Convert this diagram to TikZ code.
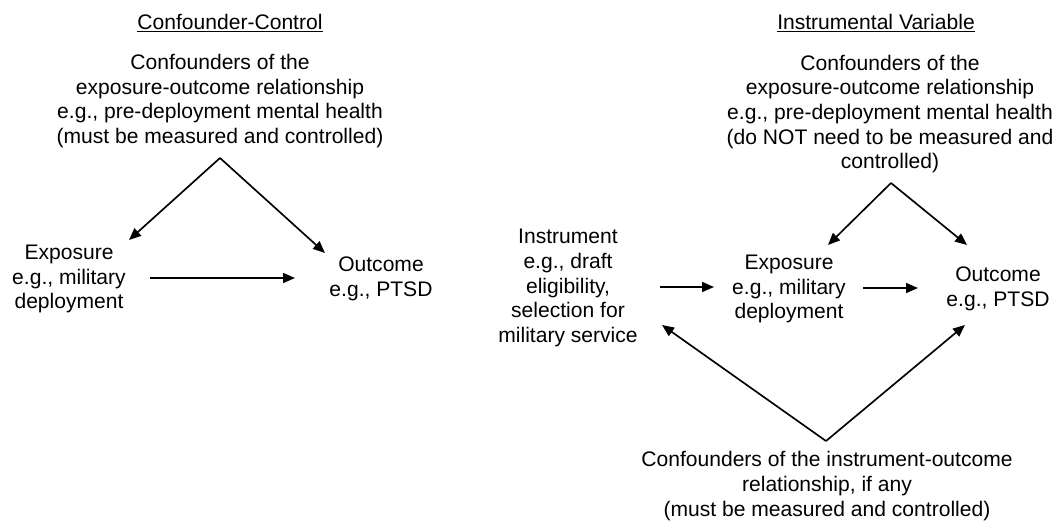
\documentclass[tikz,border=0pt]{standalone}
\usepackage{fontspec}
\setmainfont{Liberation Sans}
\usetikzlibrary{arrows.meta}
\tikzset{
  lbl/.style={align=center, inner sep=0pt, font=\fontsize{15.8}{18.5}\selectfont},
  ttl/.style={inner sep=0pt, font=\fontsize{15.8}{18.5}\selectfont},
  arr/.style={line width=1.25pt, -{Triangle[length=9pt,width=7.5pt]}}
}
\begin{document}
\begin{tikzpicture}[x=0.75pt,y=-0.75pt]
\useasboundingbox (0,0) rectangle (1056,521);
% ---- left panel ----
\node[ttl] (title1) at (230,23) {\underline{Confounder-Control}};
\node[lbl] (conf1) at (220,101) {Confounders of the\\exposure-outcome relationship\\e.g., pre-deployment mental health\\(must be measured and controlled)};
\node[lbl] (exp1) at (69,279) {Exposure\\e.g., military\\deployment};
\node[lbl] (out1) at (381,279) {Outcome\\e.g., PTSD};
\coordinate (apex1) at (220,158);
\coordinate (tipE1) at (129,240);
\coordinate (tipO1) at (325,253);
\coordinate (e1s) at (150,278);
\coordinate (e1t) at (295,278);
\draw[arr] (apex1) -- (tipE1);
\draw[arr] (apex1) -- (tipO1);
\draw[arr] (e1s) -- (e1t);
% ---- right panel ----
\node[ttl] (title2) at (876,23) {\underline{Instrumental Variable}};
\node[lbl] (conf2) at (890,114) {Confounders of the\\exposure-outcome relationship\\e.g., pre-deployment mental health\\(do NOT need to be measured and\\controlled)};
\node[lbl] (inst) at (568,288) {Instrument\\e.g., draft\\eligibility,\\selection for\\military service};
\node[lbl] (exp2) at (789,289) {Exposure\\e.g., military\\deployment};
\node[lbl] (out2) at (998,289) {Outcome\\e.g., PTSD};
\node[lbl] (conf3) at (827,486) {Confounders of the instrument-outcome\\relationship, if any\\(must be measured and controlled)};
\coordinate (apex2) at (891,183);
\coordinate (tipE2) at (828,245);
\coordinate (tipO2) at (967,245);
\coordinate (apex3) at (826,441);
\coordinate (tipI3) at (662,325);
\coordinate (tipO3) at (965,325);
\coordinate (i2s) at (660,287);
\coordinate (i2t) at (714,287);
\coordinate (e2s) at (863,288);
\coordinate (e2t) at (918,288);
\draw[arr] (apex2) -- (tipE2);
\draw[arr] (apex2) -- (tipO2);
\draw[arr] (apex3) -- (tipI3);
\draw[arr] (apex3) -- (tipO3);
\draw[arr] (i2s) -- (i2t);
\draw[arr] (e2s) -- (e2t);
\end{tikzpicture}
\end{document}
